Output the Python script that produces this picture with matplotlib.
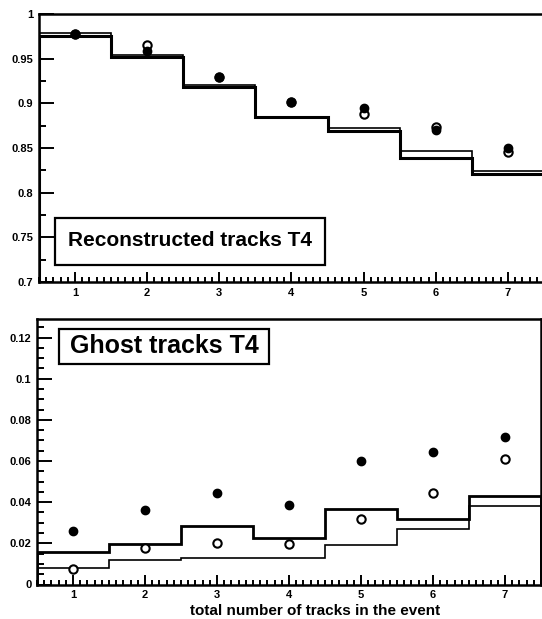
import numpy as np
import matplotlib
matplotlib.use('Agg')
import matplotlib.pyplot as plt
from matplotlib.patches import Rectangle
from matplotlib.ticker import MultipleLocator, FixedFormatter, FixedLocator

plt.rcParams['font.family'] = ['Liberation Sans', 'DejaVu Sans']
plt.rcParams['font.weight'] = 'bold'

# number of tracks in the event (bin centres) and bin edges
ntracks = [1, 2, 3, 4, 5, 6, 7]
edges = [0.5, 1.5, 2.5, 3.5, 4.5, 5.5, 6.5, 7.5]

# top panel: reconstructed tracks T4
reco_full = [0.978, 0.959, 0.930, 0.901, 0.895, 0.870, 0.850]   # filled dots
reco_open = [0.978, 0.965, 0.930, 0.901, 0.888, 0.874, 0.845]   # open circles
reco_hist_a = [0.975, 0.952, 0.918, 0.885, 0.869, 0.839, 0.821]  # thick histogram
reco_hist_b = [0.979, 0.954, 0.920, 0.885, 0.872, 0.847, 0.824]  # thin histogram

# bottom panel: ghost tracks T4
ghost_full = [0.0259, 0.0361, 0.0447, 0.0385, 0.0599, 0.0642, 0.0716]
ghost_open = [0.0077, 0.0177, 0.0203, 0.0199, 0.0316, 0.0445, 0.0608]
ghost_hist_a = [0.0158, 0.0199, 0.0282, 0.0228, 0.0369, 0.0320, 0.0429]
ghost_hist_b = [0.0080, 0.0117, 0.0130, 0.0128, 0.0192, 0.0268, 0.0380]

top_yticks = [0.7, 0.75, 0.8, 0.85, 0.9, 0.95, 1.0]
top_ylabels = ['0.7', '0.75', '0.8', '0.85', '0.9', '0.95', '1']
bot_yticks = [0, 0.02, 0.04, 0.06, 0.08, 0.1, 0.12]
bot_ylabels = ['0', '0.02', '0.04', '0.06', '0.08', '0.1', '0.12']

W, H = 542, 619
fig = plt.figure(figsize=(W / 100, H / 100), dpi=100)


def px_axes(x0, x1, ytop, ybot):
    return fig.add_axes([x0 / W, 1 - ybot / H, (x1 - x0) / W, (ybot - ytop) / H])


def style(ax, yticks, ylabels, ymin, ymax, yminor):
    ax.set_xlim(0.5, 7.5)
    ax.set_ylim(ymin, ymax)
    ax.yaxis.set_major_locator(FixedLocator(yticks))
    ax.yaxis.set_major_formatter(FixedFormatter(ylabels))
    ax.yaxis.set_minor_locator(MultipleLocator(yminor))
    ax.xaxis.set_major_locator(FixedLocator(ntracks))
    ax.xaxis.set_minor_locator(MultipleLocator(0.1))
    ax.tick_params(which='both', direction='in', top=False, right=False, width=1.4)
    ax.tick_params(axis='y', which='major', length=11, pad=4, labelsize=8)
    ax.tick_params(axis='y', which='minor', length=5)
    ax.tick_params(axis='x', which='major', length=7, pad=4, labelsize=8)
    ax.tick_params(axis='x', which='minor', length=3.5)
    for s in ax.spines.values():
        s.set_linewidth(1.8)


# ---- top panel
ax1 = px_axes(38.9, 544, 14, 282)
style(ax1, top_yticks, top_ylabels, 0.7, 1.0, 0.025)
ax1.stairs(reco_hist_b, edges, color='black', lw=1.2)
ax1.stairs(reco_hist_a, edges, color='black', lw=2.2)
ax1.plot(ntracks, reco_open, 'o', ms=6, mfc='white', mec='black', mew=1.5, ls='none')
ax1.plot(ntracks, reco_full, 'o', ms=6, color='black', ls='none')
ax1.add_patch(Rectangle((0.032, 0.063), 0.534, 0.176, transform=ax1.transAxes,
                        fc='white', ec='black', lw=1.6, zorder=5))
ax1.text(0.300, 0.134, 'Reconstructed tracks T4', transform=ax1.transAxes,
         ha='center', va='baseline', fontsize=15, fontweight='bold', zorder=6)

# ---- bottom panel
ax2 = px_axes(36.9, 541, 319, 584.5)
style(ax2, bot_yticks, bot_ylabels, 0.0, 0.129, 0.005)
ax2.stairs(ghost_hist_b, edges, color='black', lw=1.2)
ax2.stairs(ghost_hist_a, edges, color='black', lw=2.0)
ax2.plot(ntracks, ghost_open, 'o', ms=6, mfc='white', mec='black', mew=1.5, ls='none')
ax2.plot(ntracks, ghost_full, 'o', ms=6, color='black', ls='none')
ax2.add_patch(Rectangle((0.044, 0.830), 0.417, 0.132, transform=ax2.transAxes,
                        fc='white', ec='black', lw=1.6, zorder=5))
ax2.text(0.252, 0.871, 'Ghost tracks T4', transform=ax2.transAxes,
         ha='center', va='baseline', fontsize=18, fontweight='bold', zorder=6)

fig.text(315 / W, 4 / H, 'total number of tracks in the event',
         ha='center', va='baseline', fontsize=11, fontweight='bold')

fig.savefig('out.png', dpi=100)
